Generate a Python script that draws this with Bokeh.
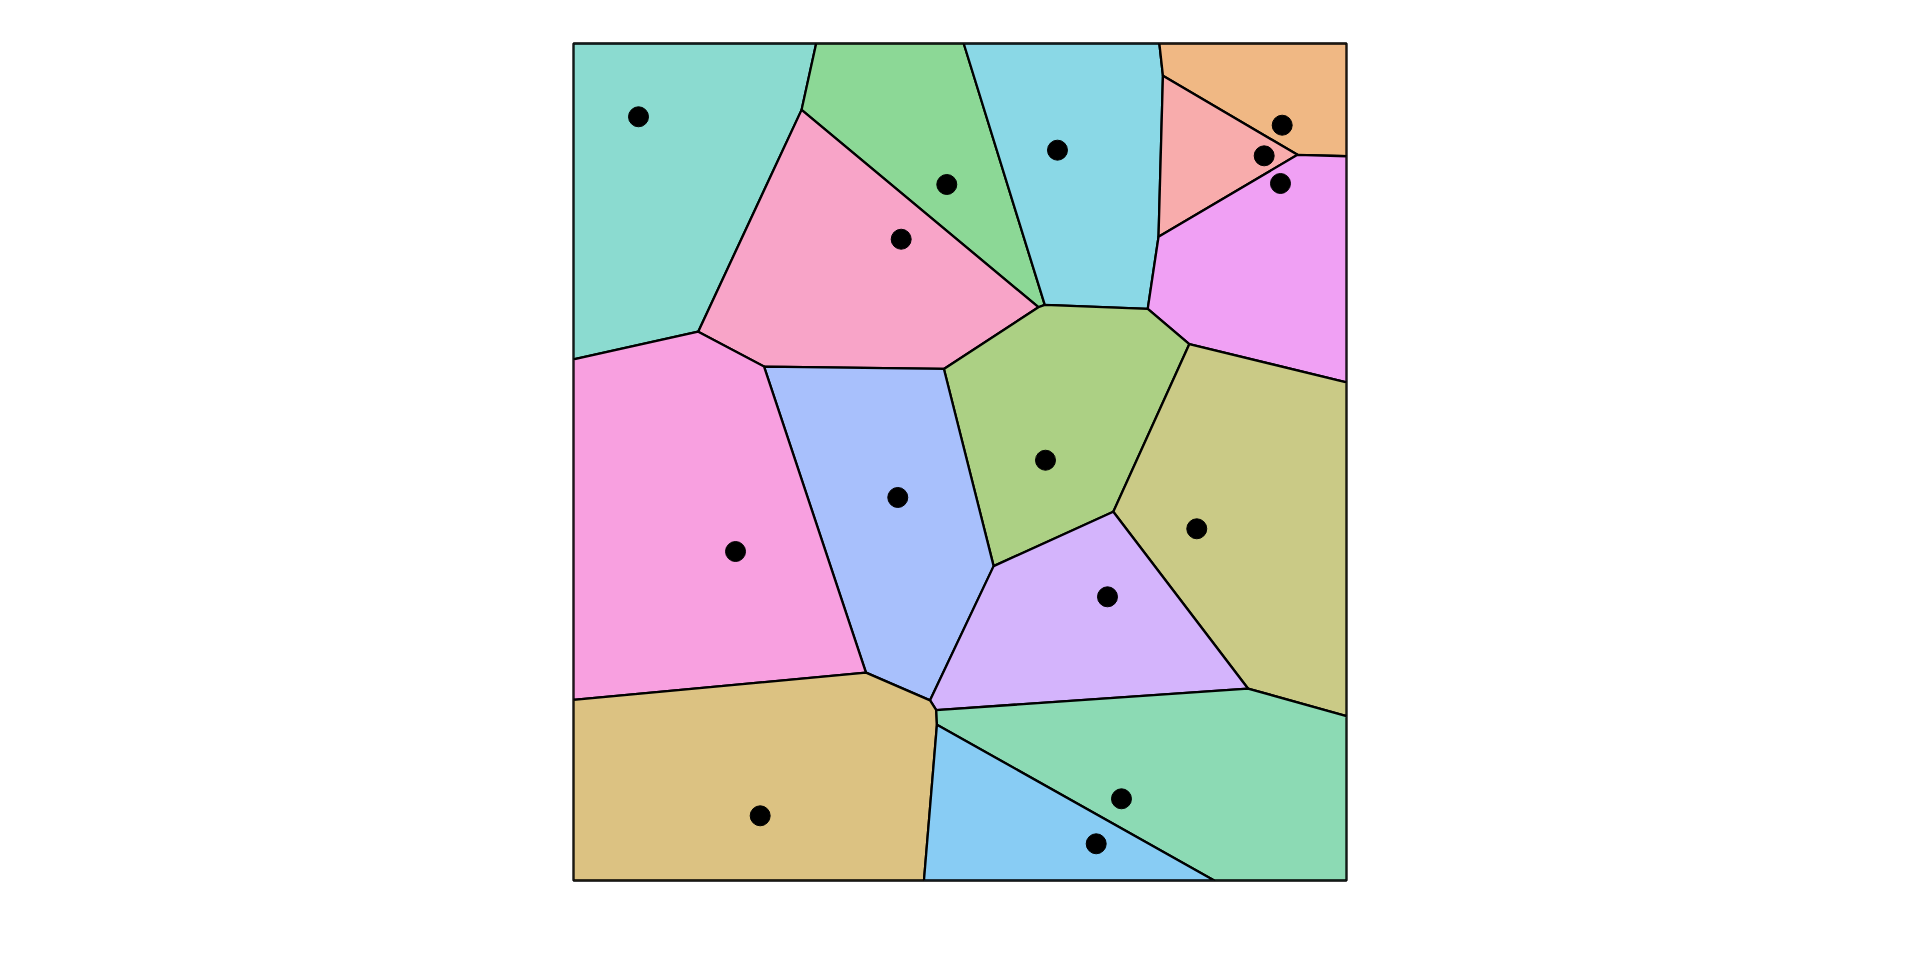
import numpy as np
from bokeh.plotting import figure
from bokeh.models import Range1d
from bokeh.embed import file_html
from bokeh.resources import INLINE

# Box size (data units, equal aspect)
BOX_W = 1.0
BOX_H = 1.0828

# Seed points
px = [0.0841, 0.4829, 0.4239, 0.6261, 0.9168, 0.8935, 0.9146, 0.6106,
      0.4195, 0.2096, 0.8063, 0.6908, 0.2415, 0.7089, 0.6762]
py = [0.9880, 0.9004, 0.8296, 0.9448, 0.9771, 0.9375, 0.9017, 0.5437,
      0.4955, 0.4256, 0.4550, 0.3670, 0.0837, 0.1057, 0.0475]

colors = ["#8BDBD0", "#8CD896", "#F8A4C8", "#8AD8E6", "#F0B884", "#F8ACAC",
          "#F0A0F4", "#ACD084", "#A8C0FC", "#F8A0E0", "#CACA86", "#D4B4FC",
          "#DCC282", "#8CDAB4", "#88CCF4"]


def clip(poly, a, b, c):
    # keep points with a*x + b*y <= c
    out = []
    n = len(poly)
    for k in range(n):
        p1 = poly[k]
        p2 = poly[(k + 1) % n]
        v1 = a * p1[0] + b * p1[1] - c
        v2 = a * p2[0] + b * p2[1] - c
        if v1 <= 0:
            out.append(p1)
        if (v1 < 0 < v2) or (v2 < 0 < v1):
            t = v1 / (v1 - v2)
            out.append((p1[0] + t * (p2[0] - p1[0]), p1[1] + t * (p2[1] - p1[1])))
    return out


xs, ys = [], []
for i in range(len(px)):
    poly = [(0.0, 0.0), (BOX_W, 0.0), (BOX_W, BOX_H), (0.0, BOX_H)]
    for j in range(len(px)):
        if i == j:
            continue
        a = px[j] - px[i]
        b = py[j] - py[i]
        mx = (px[i] + px[j]) / 2
        my = (py[i] + py[j]) / 2
        poly = clip(poly, a, b, a * mx + b * my)
    xs.append([q[0] for q in poly])
    ys.append([q[1] for q in poly])

p = figure(frame_width=773, frame_height=837,
           x_range=Range1d(0, BOX_W), y_range=Range1d(0, BOX_H),
           x_axis_type=None, y_axis_type=None,
           output_backend="svg", toolbar_location=None,
           min_border_left=573, min_border_top=43,
           min_border_right=550, min_border_bottom=40)
p.grid.visible = False
p.outline_line_color = "black"
p.outline_line_width = 2.3
p.background_fill_color = "white"

p.patches(xs, ys, fill_color=colors, fill_alpha=1.0,
          line_color="black", line_width=2.3, line_join="round")
p.scatter(px, py, size=20, color="black")

open("out.html", "w").write(file_html(p, INLINE))
